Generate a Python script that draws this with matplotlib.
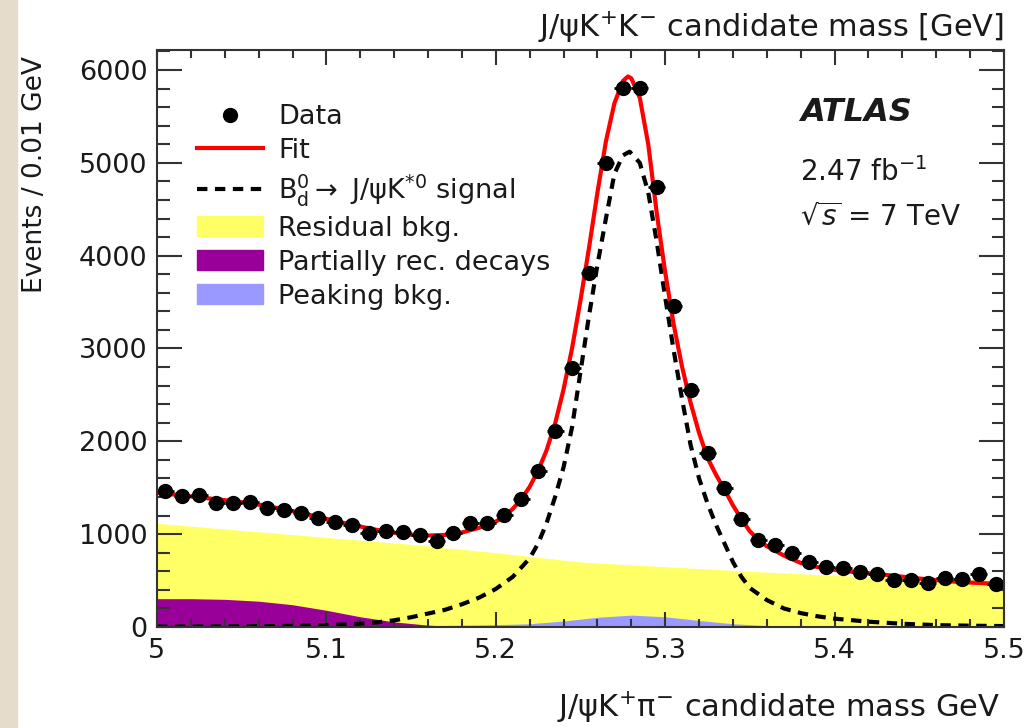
import numpy as np
import matplotlib
matplotlib.use('Agg')
from matplotlib import pyplot as plt
from matplotlib.lines import Line2D
from matplotlib.patches import Patch, Rectangle
from matplotlib.ticker import MultipleLocator

# J/psi K+ pi- candidate mass, bin centres (GeV) and events per 0.01 GeV
masa = [5.005, 5.015, 5.025, 5.035, 5.045, 5.055, 5.065, 5.075, 5.085, 5.095,
        5.105, 5.115, 5.125, 5.135, 5.145, 5.155, 5.165, 5.175, 5.185, 5.195,
        5.205, 5.215, 5.225, 5.235, 5.245, 5.255, 5.265, 5.275, 5.285, 5.295,
        5.305, 5.315, 5.325, 5.335, 5.345, 5.355, 5.365, 5.375, 5.385, 5.395,
        5.405, 5.415, 5.425, 5.435, 5.445, 5.455, 5.465, 5.475, 5.485, 5.495]
eventos = [1469, 1411, 1422, 1333, 1333, 1350, 1279, 1261, 1225, 1171,
           1135, 1099, 1016, 1034, 1027, 991, 927, 1009, 1117, 1117,
           1207, 1376, 1684, 2110, 2790, 3815, 5000, 5808, 5808, 4741,
           3459, 2554, 1875, 1496, 1163, 937, 884, 801, 704, 650,
           632, 596, 571, 506, 506, 478, 524, 513, 571, 460]

# total fit
fit_m = [5.00, 5.01, 5.02, 5.03, 5.04, 5.05, 5.06, 5.07, 5.08, 5.09, 5.10,
         5.11, 5.12, 5.13, 5.14, 5.15, 5.16, 5.17, 5.18, 5.19, 5.20, 5.205,
         5.21, 5.215, 5.22, 5.225, 5.23, 5.235, 5.24, 5.245, 5.25, 5.255,
         5.26, 5.265, 5.27, 5.275, 5.278, 5.28, 5.285, 5.29, 5.295, 5.30,
         5.305, 5.31, 5.315, 5.32, 5.325, 5.33, 5.335, 5.34, 5.345, 5.35,
         5.355, 5.36, 5.37, 5.38, 5.39, 5.40, 5.41, 5.42, 5.43, 5.44, 5.45,
         5.46, 5.47, 5.48, 5.49, 5.50]
fit_v = [1447, 1427, 1406, 1386, 1366, 1345, 1318, 1285, 1248, 1208, 1165,
         1122, 1082, 1045, 1015, 995, 985, 992, 1018, 1068, 1135, 1195,
         1272, 1375, 1510, 1685, 1905, 2190, 2560, 3000, 3520, 4080,
         4680, 5230, 5640, 5880, 5930, 5910, 5700, 5200, 4460, 3820,
         3260, 2800, 2414, 2090, 1820, 1640, 1480, 1310, 1163, 1030,
         940, 870, 770, 690, 645, 615, 595, 580, 562, 542, 522,
         505, 490, 479, 470, 462]

# B_d -> J/psi K*0 signal component
sig_m = [5.00, 5.05, 5.08, 5.10, 5.12, 5.13, 5.14, 5.15, 5.16, 5.17, 5.18,
         5.19, 5.20, 5.21, 5.22, 5.225, 5.23, 5.235, 5.24, 5.245, 5.25,
         5.255, 5.26, 5.265, 5.27, 5.275, 5.279, 5.285, 5.29, 5.295, 5.30,
         5.305, 5.31, 5.315, 5.32, 5.325, 5.33, 5.335, 5.34, 5.345, 5.35,
         5.36, 5.37, 5.38, 5.39, 5.40, 5.42, 5.44, 5.46, 5.48, 5.50]
sig_v = [5, 8, 12, 20, 35, 50, 72, 105, 145, 185, 245,
         315, 410, 540, 740, 900, 1120, 1400, 1720, 2150, 2750,
         3350, 3900, 4400, 4880, 5080, 5120, 5000, 4680, 4150, 3550,
         2980, 2450, 1960, 1600, 1330, 1100, 900, 700, 540, 420,
         290, 200, 150, 115, 90, 57, 35, 20, 14, 10]

# background components
res_m = [5.00, 5.05, 5.10, 5.15, 5.20, 5.25, 5.30, 5.35, 5.40, 5.45, 5.50]
res_v = [1117, 1040, 965, 890, 800, 700, 650, 600, 555, 525, 500]

parc_m = [5.00, 5.02, 5.04, 5.06, 5.08, 5.10, 5.12, 5.14, 5.16, 5.18, 5.20, 5.50]
parc_v = [305, 305, 298, 278, 240, 180, 110, 55, 20, 5, 0, 0]

pico_m = [5.00, 5.10, 5.15, 5.20, 5.22, 5.24, 5.26, 5.28, 5.30, 5.32, 5.34,
          5.36, 5.40, 5.45, 5.50]
pico_v = [2, 5, 12, 25, 35, 65, 105, 128, 110, 70, 35, 15, 8, 5, 3]

amarillo = '#ffff66'
morado = '#990099'
azul = '#9999ff'
gris = '#333333'
texto = '#1a1a1a'

fig = plt.figure(figsize=(10.29, 7.28), dpi=100)
fig.patches.append(Rectangle((0, 0), 17 / 1029, 1, transform=fig.transFigure,
                             color='#e6dccb', zorder=-1))
ax = fig.add_axes([157 / 1029, 101 / 728, 847 / 1029, 577 / 728])

ax.fill_between(res_m, 0, res_v, color=amarillo, lw=0)
ax.fill_between(pico_m, 0, pico_v, color=azul, lw=0)
ax.fill_between(parc_m, 0, parc_v, color=morado, lw=0)
ax.plot(sig_m, sig_v, color='k', lw=3, dashes=(2.5, 1.8))
ax.plot(fit_m, fit_v, color='red', lw=3)
ax.errorbar(masa, eventos, xerr=0.005, yerr=np.sqrt(eventos), fmt='o',
            color='k', ms=10, elinewidth=2, capsize=0)

ax.set_xlim(5.0, 5.5)
ax.set_ylim(0, 6215)
ax.xaxis.set_major_locator(MultipleLocator(0.1))
ax.xaxis.set_minor_locator(MultipleLocator(0.02))
ax.yaxis.set_major_locator(MultipleLocator(1000))
ax.yaxis.set_minor_locator(MultipleLocator(200))
ax.set_xticks([5.0, 5.1, 5.2, 5.3, 5.4, 5.5], ['5', '5.1', '5.2', '5.3', '5.4', '5.5'])
ax.tick_params(which='both', direction='in', top=True, right=True, color=gris,
               width=1.5, labelsize=19.5, labelcolor=texto)
ax.tick_params(axis='x', which='major', length=11, pad=8)
ax.tick_params(axis='x', which='minor', length=5.5)
ax.tick_params(axis='y', which='major', length=18, pad=7)
ax.tick_params(axis='y', which='minor', length=9)
for s in ax.spines.values():
    s.set_color(gris)
    s.set_linewidth(1.5)

ax.text(1.0, 1.0 + 13 / 577, r'J/ψK$^{+}$K$^{-}$ candidate mass [GeV]',
        transform=ax.transAxes, ha='right', va='baseline', fontsize=22, color=texto)
ax.text(0.995, -0.156, r'J/ψK$^{+}$π$^{-}$ candidate mass GeV',
        transform=ax.transAxes, ha='right', va='baseline', fontsize=22, color=texto)
ax.text(-0.144, 0.99, 'Events / 0.01 GeV', transform=ax.transAxes, rotation=90,
        ha='center', va='top', fontsize=19, color=texto)

ax.text(0.759, 0.8925, 'ATLAS', transform=ax.transAxes, fontsize=23,
        fontweight='bold', fontstyle='italic', va='center', color=texto)
ax.text(0.759, 0.7886, r'2.47 fb$^{-1}$', transform=ax.transAxes, fontsize=20,
        va='center', color=texto)
ax.text(0.759, 0.7106, r'$\sqrt{s}$ = 7 TeV', transform=ax.transAxes, fontsize=20,
        va='center', color=texto)

handles = [
    Line2D([], [], marker='o', ls='none', color='k', ms=10),
    Line2D([], [], color='red', lw=3),
    Line2D([], [], color='k', lw=3, dashes=(2.5, 1.8)),
    Patch(color=amarillo),
    Patch(color=morado),
    Patch(color=azul),
]
labels = ['Data', 'Fit', r'B$_{\mathrm{d}}^{0}$$\rightarrow$ J/ψK$^{*0}$ signal',
          'Residual bkg.', 'Partially rec. decays', 'Peaking bkg.']
ax.legend(handles, labels, loc='upper left', bbox_to_anchor=(0.047, 0.906),
          frameon=False, fontsize=19.5, borderpad=0, borderaxespad=0,
          handlelength=2.45, handleheight=0.75, handletextpad=0.55,
          labelspacing=0.29, labelcolor=texto)

fig.savefig('out.png', dpi=100)
